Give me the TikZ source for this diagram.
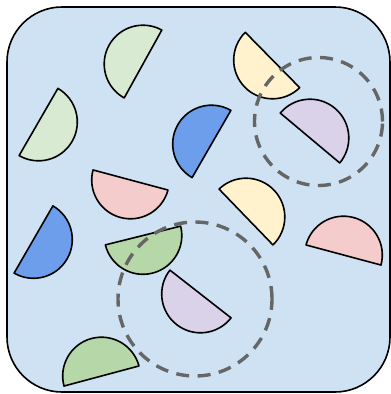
\documentclass[tikz,border=0pt]{standalone}
\begin{document}
\begin{tikzpicture}[x=1pt,y=1pt,
  semi/.style={draw=black,line width=1.6pt,line join=round},
  ring/.style={draw=dgray,line width=3.4pt,dash pattern=on 13pt off 8.5pt}]
\definecolor{bgblue}{HTML}{CFE2F3}
\definecolor{lgreen}{HTML}{D9EAD3}
\definecolor{mblue}{HTML}{6D9EEB}
\definecolor{lpink}{HTML}{F4CCCC}
\definecolor{lyellow}{HTML}{FFF2CC}
\definecolor{lpurple}{HTML}{D9D2E9}
\definecolor{mgreen}{HTML}{B6D7A8}
\definecolor{dgray}{HTML}{666666}
\useasboundingbox (0,0) rectangle (391,-394);
\draw[fill=bgblue,line width=1.6pt,rounded corners=55pt] (7,-7) rectangle (390,-392);
% centers
\coordinate (s1) at (143,-64);
\coordinate (s2) at (38.5,-122);
\coordinate (s3) at (211.5,-144);
\coordinate (s4) at (272.5,-60);
\coordinate (s5) at (310,-138);
\coordinate (s6) at (130.5,-180);
\coordinate (s7) at (246,-217);
\coordinate (s8) at (343.5,-255);
\coordinate (s9) at (33.5,-239.5);
\coordinate (s10) at (143,-235.5);
\coordinate (s11) at (200.5,-294);
\coordinate (s12) at (101.5,-376);
\coordinate (r1) at (318.5,-121.5);
\coordinate (r2) at (195,-299);
% semicircles
\draw[semi,fill=lgreen] (s1) ++(61:38.8) arc[start angle=61,delta angle=180,radius=38.8] -- cycle;
\draw[semi,fill=lgreen] (s2) ++(60:38.8) arc[start angle=60,delta angle=-180,radius=38.8] -- cycle;
\draw[semi,fill=mblue] (s3) ++(60:38.8) arc[start angle=60,delta angle=180,radius=38.8] -- cycle;
\draw[semi,fill=lyellow] (s4) ++(134.5:38.8) arc[start angle=134.5,delta angle=180,radius=38.8] -- cycle;
\draw[semi,fill=lpurple] (s5) ++(140:38.8) arc[start angle=140,delta angle=-180,radius=38.8] -- cycle;
\draw[semi,fill=lpink] (s6) ++(165:38.8) arc[start angle=165,delta angle=180,radius=38.8] -- cycle;
\draw[semi,fill=lyellow] (s7) ++(134:38.8) arc[start angle=134,delta angle=-180,radius=38.8] -- cycle;
\draw[semi,fill=lpink] (s8) ++(165:38.8) arc[start angle=165,delta angle=-180,radius=38.8] -- cycle;
\draw[semi,fill=mblue] (s9) ++(60:38.8) arc[start angle=60,delta angle=-180,radius=38.8] -- cycle;
\draw[semi,fill=mgreen] (s10) ++(194:38.8) arc[start angle=194,delta angle=180,radius=38.8] -- cycle;
\draw[semi,fill=lpurple] (s11) ++(142:38.8) arc[start angle=142,delta angle=180,radius=38.8] -- cycle;
\draw[semi,fill=mgreen] (s12) ++(195:38.8) arc[start angle=195,delta angle=-180,radius=38.8] -- cycle;
% dashed rings
\draw[ring] (r1) circle[radius=64];
\draw[ring] (r2) circle[radius=77];
\end{tikzpicture}
\end{document}
